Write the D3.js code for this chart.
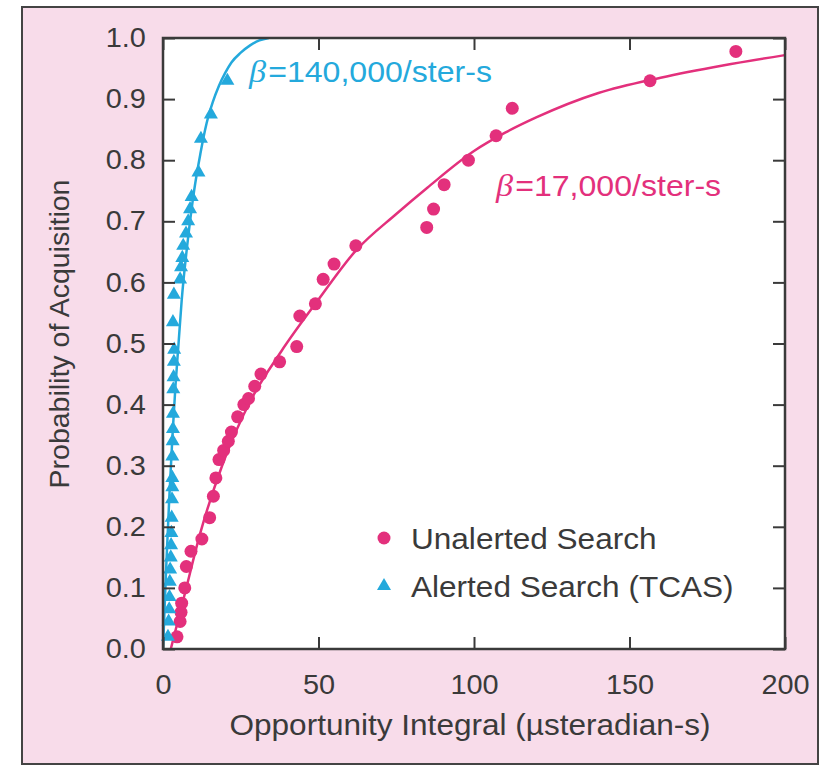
<!DOCTYPE html>
<html>
<head>
<meta charset="utf-8">
<script src="https://cdn.jsdelivr.net/npm/d3@7"></script>
<style>
  body { margin: 0; background: #fff; }
  svg { display: block; }
</style>
</head>
<body>
<svg id="chart" width="830" height="768"></svg>
<script>
// data
const xTicks = [0, 50, 100, 150, 200];
const yTicks = [0, 0.1, 0.2, 0.3, 0.4, 0.5, 0.6, 0.7, 0.8, 0.9, 1.0];

// unalerted search (circles)
const unalertedX = [4.5, 5.5, 5.8, 6.0, 7.0, 7.5, 9.0, 12.5, 15, 16.2, 17, 18, 19.5, 21, 22, 24, 26, 27.5, 29.5, 31.5, 37.5, 43, 44, 49, 51.5, 55, 62, 84.8, 87, 90.4, 98.2, 107.1, 112.3, 156.6, 184.2];
const unalertedY = [0.02, 0.045, 0.06, 0.075, 0.10, 0.135, 0.16, 0.18, 0.215, 0.25, 0.28, 0.31, 0.325, 0.34, 0.355, 0.38, 0.40, 0.41, 0.43, 0.45, 0.47, 0.495, 0.545, 0.565, 0.605, 0.63, 0.66, 0.69, 0.72, 0.76, 0.80, 0.84, 0.885, 0.93, 0.978];

// alerted search, TCAS (triangles)
const alertedX = [1.6, 1.8, 2.0, 2.1, 2.2, 2.3, 2.5, 2.6, 2.7, 2.8, 2.9, 3.0, 3.0, 3.0, 3.1, 3.2, 3.2, 3.3, 3.4, 3.5, 3.6, 3.2, 3.5, 5.5, 5.8, 6.2, 6.5, 7.4, 8.1, 8.7, 9.2, 11.4, 12.2, 15.4, 20.7];
const alertedY = [0.02, 0.045, 0.065, 0.085, 0.11, 0.13, 0.15, 0.17, 0.19, 0.215, 0.245, 0.265, 0.28, 0.315, 0.34, 0.36, 0.385, 0.425, 0.445, 0.47, 0.49, 0.535, 0.58, 0.605, 0.625, 0.64, 0.66, 0.68, 0.70, 0.72, 0.74, 0.78, 0.835, 0.875, 0.93];

// fitted curves
const fitSlowX = [2.5, 7, 12, 19, 28, 38, 50, 62, 75, 85, 100, 110, 120, 140, 160, 180, 200];
const fitSlowY = [0, 0.09, 0.19, 0.30, 0.405, 0.487, 0.572, 0.652, 0.712, 0.755, 0.815, 0.845, 0.87, 0.91, 0.935, 0.955, 0.972];
const fitFastX = [0, 1, 2, 3, 4, 5, 6, 8, 10, 12, 14, 16, 18, 20, 22, 25, 28, 31, 34];
const fitFastY = [0, 0.13, 0.245, 0.345, 0.43, 0.50, 0.57, 0.67, 0.75, 0.81, 0.86, 0.895, 0.922, 0.943, 0.96, 0.976, 0.988, 0.996, 1.0];

const seriesNames = ["Unalerted Search", "Alerted Search (TCAS)"];
const betaLabels = ["=140,000/ster-s", "=17,000/ster-s"];

const pink = "#e3307c";
const cyan = "#24a9dc";
const ink = "#3a3a3a";
const sans = "'Liberation Sans', Arial, sans-serif";
const stretch = 1.07;

const svg = d3.select("#chart");

// outer pink panel
svg.append("rect")
    .attr("x", 22).attr("y", 7)
    .attr("width", 796).attr("height", 757)
    .attr("fill", "#f8dcea")
    .attr("stroke", "#444").attr("stroke-width", 2);

const plotLeft = 163, plotTop = 38, plotRight = 785, plotBottom = 649;

const x = d3.scaleLinear().domain([0, 200]).range([plotLeft, plotRight]);
const y = d3.scaleLinear().domain([0, 1]).range([plotBottom, plotTop]);

svg.append("rect")
    .attr("x", plotLeft).attr("y", plotTop)
    .attr("width", plotRight - plotLeft).attr("height", plotBottom - plotTop)
    .attr("fill", "#fff");

svg.append("clipPath").attr("id", "plotClip")
    .append("rect")
    .attr("x", plotLeft).attr("y", plotTop)
    .attr("width", plotRight - plotLeft).attr("height", plotBottom - plotTop);

// curves
const line = d3.line().x(d => x(d[0])).y(d => y(d[1])).curve(d3.curveMonotoneX);

svg.append("path")
    .datum(d3.zip(fitSlowX, fitSlowY))
    .attr("clip-path", "url(#plotClip)")
    .attr("d", line)
    .attr("fill", "none")
    .attr("stroke", pink)
    .attr("stroke-width", 2.5);

svg.append("path")
    .datum(d3.zip(fitFastX, fitFastY))
    .attr("clip-path", "url(#plotClip)")
    .attr("d", line)
    .attr("fill", "none")
    .attr("stroke", cyan)
    .attr("stroke-width", 2.5);

// points
svg.append("g").selectAll("circle")
    .data(d3.zip(unalertedX, unalertedY))
    .join("circle")
    .attr("cx", d => x(d[0]))
    .attr("cy", d => y(d[1]))
    .attr("r", 6.5)
    .attr("fill", pink);

const tri = d3.symbol().type(d3.symbolTriangle).size(85);
svg.append("g").selectAll("path")
    .data(d3.zip(alertedX, alertedY))
    .join("path")
    .attr("transform", d => `translate(${x(d[0])},${y(d[1])})`)
    .attr("d", tri)
    .attr("fill", cyan);

// axes, ticks pointing inward on all four sides
function styleAxis(g) {
    g.select(".domain").remove();
    g.selectAll(".tick line").attr("stroke", ink).attr("stroke-width", 2);
    g.selectAll("text")
        .attr("fill", ink)
        .attr("transform", `scale(${stretch},1)`)
        .style("font-family", sans)
        .style("font-size", "27px");
}

svg.append("g")
    .attr("transform", `translate(0,${plotBottom})`)
    .call(d3.axisBottom(x).tickValues(xTicks).tickSize(-12).tickPadding(26).tickFormat(d3.format("d")))
    .call(styleAxis);

svg.append("g")
    .attr("transform", `translate(0,${plotTop})`)
    .call(d3.axisTop(x).tickValues(xTicks).tickSize(-12).tickFormat(""))
    .call(styleAxis);

svg.append("g")
    .attr("transform", `translate(${plotLeft},0)`)
    .call(d3.axisLeft(y).tickValues(yTicks).tickSize(-12).tickPadding(16).tickFormat(d3.format(".1f")))
    .call(styleAxis);

svg.append("g")
    .attr("transform", `translate(${plotRight},0)`)
    .call(d3.axisRight(y).tickValues(yTicks).tickSize(-12).tickFormat(""))
    .call(styleAxis);

// plot frame
svg.append("rect")
    .attr("x", plotLeft).attr("y", plotTop)
    .attr("width", plotRight - plotLeft).attr("height", plotBottom - plotTop)
    .attr("fill", "none")
    .attr("stroke", ink).attr("stroke-width", 2.5);

// text helper: positions by transform so the slight horizontal stretch applies
function label(xPos, yPos, size, color) {
    return svg.append("text")
        .attr("transform", `translate(${xPos},${yPos}) scale(${stretch},1)`)
        .attr("fill", color)
        .style("font-family", sans)
        .style("font-size", size + "px");
}

// axis titles
label((plotLeft + plotRight) / 2 - 4, 735, 29.5, ink)
    .attr("text-anchor", "middle")
    .text("Opportunity Integral (\u00b5steradian-s)");

svg.append("text")
    .attr("transform", `translate(69,334) rotate(-90)`)
    .attr("text-anchor", "middle")
    .attr("fill", ink)
    .style("font-family", sans)
    .style("font-size", "28.5px")
    .text("Probability of Acquisition");

// beta annotations
function betaText(xPos, yPos, text, color) {
    const t = label(xPos, yPos, 30, color);
    t.append("tspan")
        .style("font-family", "'Liberation Serif', 'Times New Roman', serif")
        .style("font-style", "italic")
        .style("font-size", "32px")
        .text("\u03b2");
    t.append("tspan").attr("dx", 2).text(text);
}
betaText(249, 82, betaLabels[0], cyan);
betaText(496, 196, betaLabels[1], pink);

// legend
svg.append("circle").attr("cx", 384).attr("cy", 538).attr("r", 6.5).attr("fill", pink);
svg.append("path")
    .attr("transform", "translate(384,586)")
    .attr("d", tri)
    .attr("fill", cyan);
seriesNames.forEach((name, i) => {
    label(411, 549 + i * 48, 29.5, ink).text(name);
});
</script>
</body>
</html>
